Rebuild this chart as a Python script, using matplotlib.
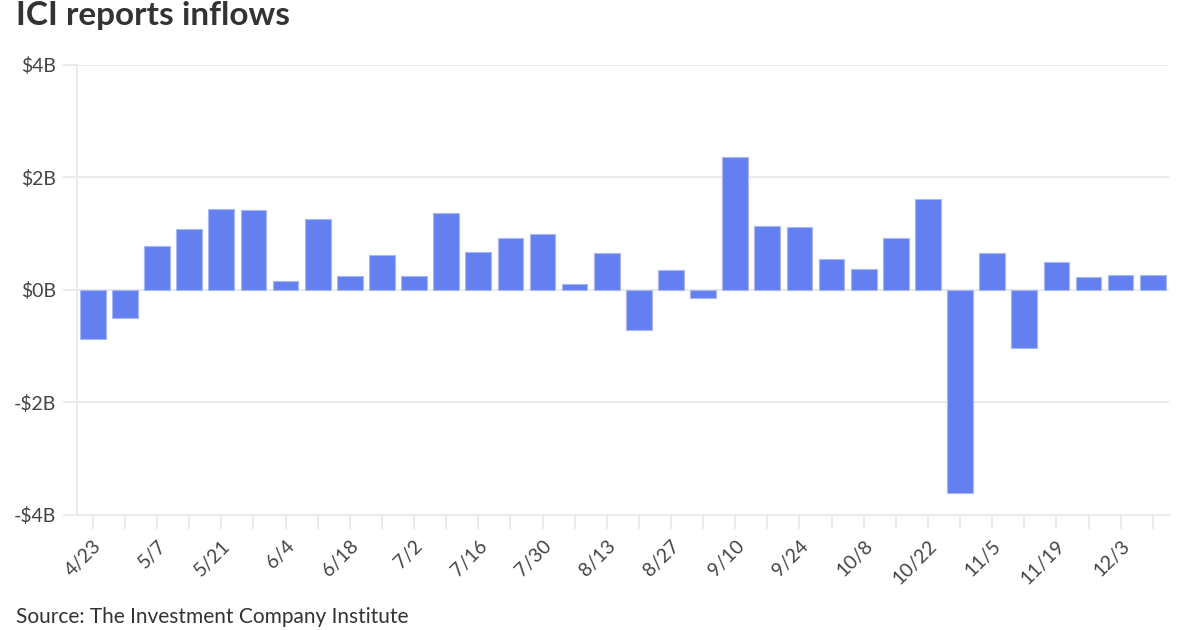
import matplotlib
matplotlib.use("Agg")
import matplotlib.pyplot as plt

weeks = ["4/23", "4/30", "5/7", "5/14", "5/21", "5/28", "6/4", "6/11", "6/18", "6/25",
         "7/2", "7/9", "7/16", "7/23", "7/30", "8/6", "8/13", "8/20", "8/27", "9/3",
         "9/10", "9/17", "9/24", "10/1", "10/8", "10/15", "10/22", "10/29", "11/5",
         "11/12", "11/19", "11/26", "12/3", "12/10"]
inflows = [-0.88, -0.51, 0.78, 1.09, 1.43, 1.42, 0.16, 1.26, 0.24, 0.62,
           0.24, 1.36, 0.67, 0.93, 1.00, 0.11, 0.65, -0.72, 0.36, -0.15,
           2.37, 1.14, 1.11, 0.55, 0.37, 0.92, 1.62, -3.61, 0.65, -1.03,
           0.50, 0.22, 0.26, 0.26]
y_ticks = [-4, -2, 0, 2, 4]
y_labels = ["-$4B", "-$2B", "$0B", "$2B", "$4B"]

plt.rcParams['font.family'] = ['Lato', 'DejaVu Sans']
text_color = "#444444"
grid_color = "#ebebeb"

fig = plt.figure(figsize=(12, 6.3), dpi=100)
ax = fig.add_axes([0.064, 0.183, 0.91, 0.714])

x = list(range(len(weeks)))
ax.bar(x, inflows, width=0.8, color="#6480f0", edgecolor="#a9b8f5", linewidth=0.8, zorder=3)

ax.set_xlim(-0.5, len(weeks) - 0.5)
ax.set_ylim(-4, 4)
ax.set_yticks(y_ticks)
ax.set_yticklabels(y_labels)
ax.set_xticks(x)
ax.set_xticklabels([w if i % 2 == 0 else "" for i, w in enumerate(weeks)],
                   rotation=45, ha="right", rotation_mode="anchor")

ax.grid(axis="y", color=grid_color, linewidth=1.5, zorder=0)
for s in ["top", "right"]:
    ax.spines[s].set_visible(False)
ax.spines["left"].set_color(grid_color)
ax.spines["left"].set_linewidth(1.5)
ax.spines["bottom"].set_color(grid_color)
ax.spines["bottom"].set_linewidth(1.5)
ax.tick_params(axis="y", length=10, width=1.5, color=grid_color, labelsize=14,
               labelcolor=text_color, pad=5)
ax.tick_params(axis="x", length=10, width=1.5, color=grid_color, labelsize=14,
               labelcolor=text_color, pad=6)

fig.text(0.013, 0.960, "ICI reports inflows", fontsize=24, fontweight="bold",
         color="#333333", va="baseline")
fig.text(0.013, 0.011, "Source: The Investment Company Institute", fontsize=15,
         color="#333333", va="baseline")

fig.savefig("out.png", dpi=100, facecolor="white")
